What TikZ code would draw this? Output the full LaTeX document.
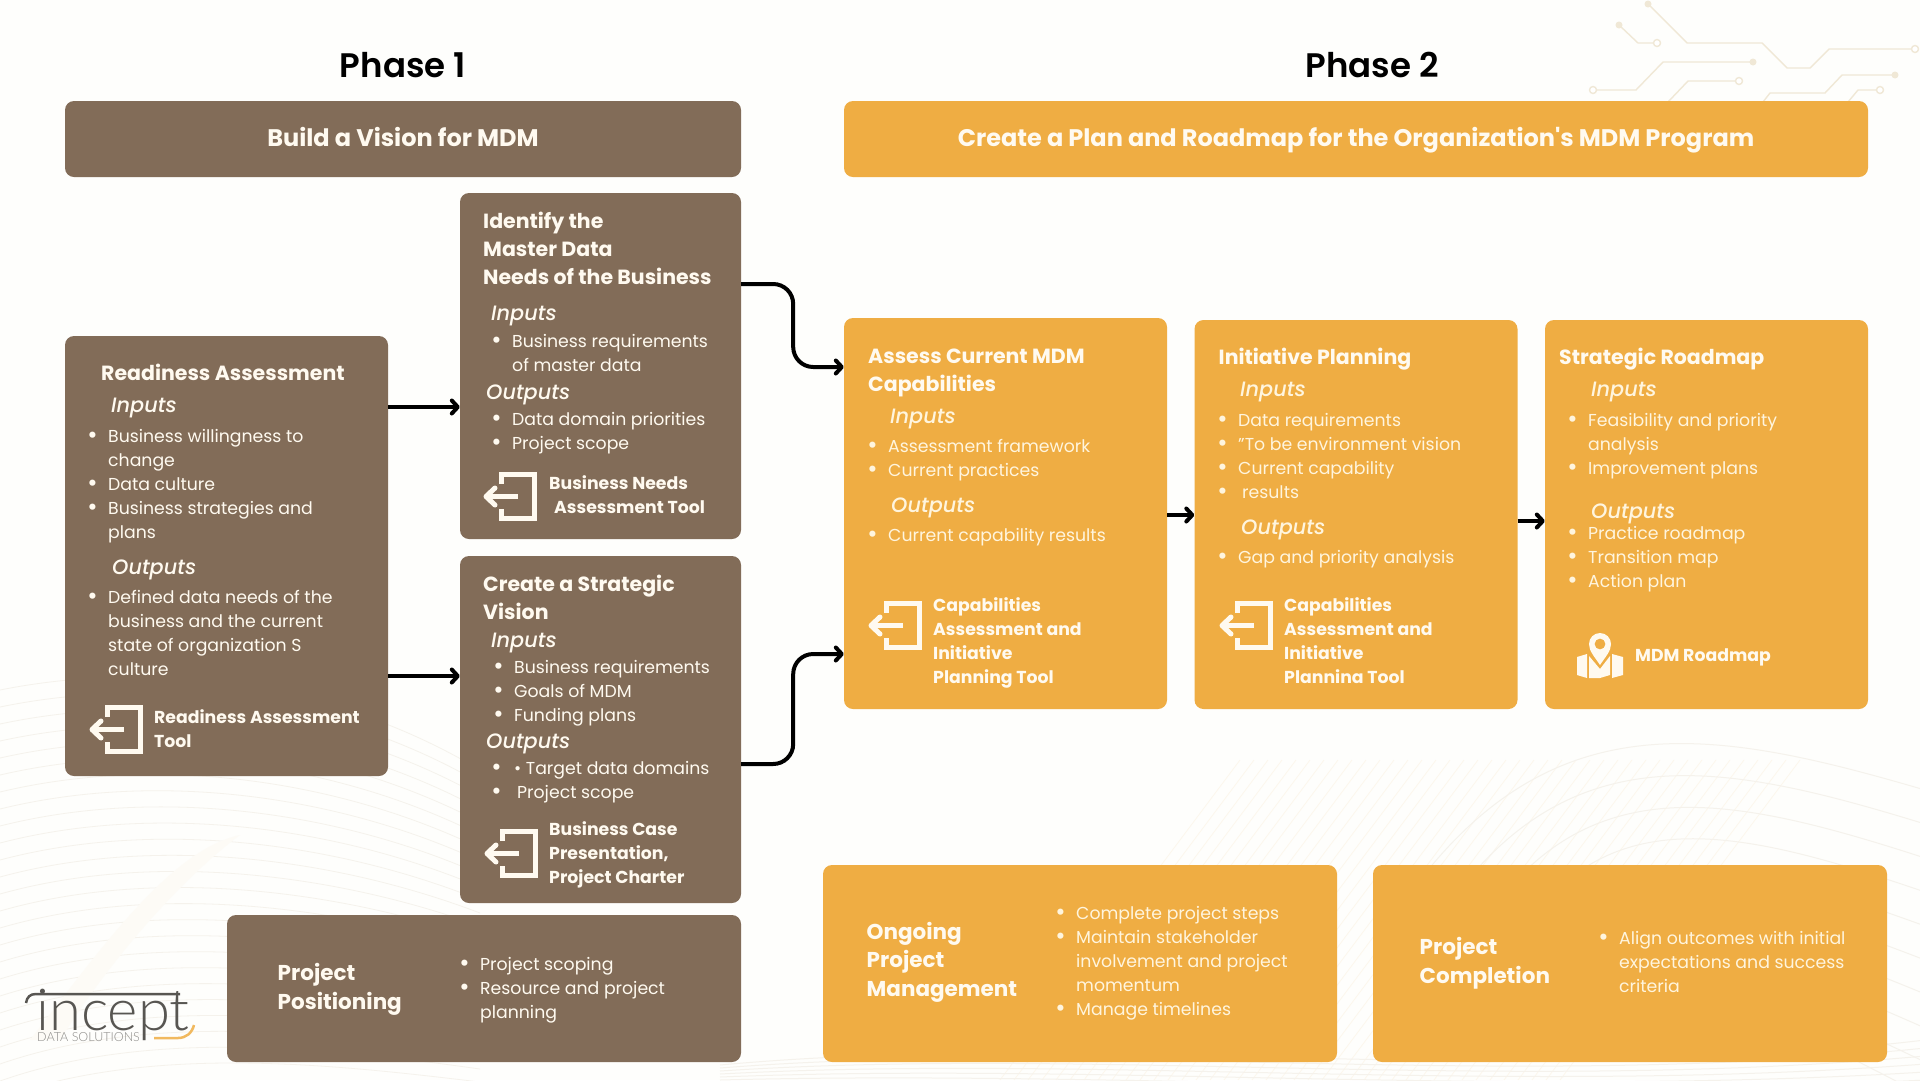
\documentclass[tikz,border=0pt]{standalone}
\usepackage{fontspec}
\usepackage{tikz}
\usetikzlibrary{arrows.meta,positioning,calc}
\setmainfont{Poppins}
\IfFontExistsTF{Lato Light}{\newfontfamily\logofont{Lato Light}}{\newfontfamily\logofont{Lato}}
\IfFontExistsTF{Poppins SemiBold}{\newfontfamily\phasefont{Poppins SemiBold}}{\newfontfamily\phasefont{Poppins Bold}}
\IfFontExistsTF{Poppins Medium Italic}{\newfontfamily\secfam{Poppins Medium Italic}}{\newfontfamily\secfam{Poppins Italic}}
\definecolor{mdmbrown}{RGB}{130,108,88}
\definecolor{mdmgold}{RGB}{239,173,67}
\definecolor{mdmcream}{RGB}{255,250,240}
\definecolor{mdmpale}{RGB}{255,245,222}
\definecolor{mdmline}{RGB}{240,232,214}
\definecolor{mdmwave}{RGB}{245,242,236}
\definecolor{mdmtint}{RGB}{252,247,236}
\definecolor{logodark}{RGB}{88,86,82}
\newcommand{\bul}{\leavevmode\llap{\raisebox{-1.6pt}{\fontsize{25}{24}\selectfont\textbullet}\hspace{10.5pt}}}
\newcommand{\ttlfont}{\fontsize{20.5}{28}\selectfont\bfseries}
\newcommand{\secfont}{\secfam\fontsize{20.8}{28}\selectfont}
\newcommand{\lstfont}{\fontsize{17.3}{24}\selectfont}
\newcommand{\toolfont}{\fontsize{17.3}{24}\selectfont\bfseries}

\begin{document}
\begin{tikzpicture}[x=1pt,y=-1pt,
  brownbox/.style={rounded corners=9pt,fill=mdmbrown,draw=none,inner sep=0pt},
  goldbox/.style={rounded corners=9pt,fill=mdmgold,draw=none,inner sep=0pt},
  phase/.style={font=\phasefont\fontsize{34}{40}\selectfont,text=black,anchor=base,inner sep=0pt},
  bannertxt/.style={font=\fontsize{24}{30}\selectfont\bfseries,text=mdmcream,anchor=base,inner sep=0pt},
  txt/.style={anchor=base west,align=left,inner sep=0pt,text=mdmcream},
  ttl/.style={txt,font=\ttlfont},
  wttl/.style={txt,font=\fontsize{21.5}{28.5}\selectfont\bfseries},
  sec/.style={txt,font=\secfont},
  lst/.style={txt,font=\lstfont},
  tooltxt/.style={txt,font=\toolfont},
  plst/.style={lst,text=mdmpale},
  psec/.style={sec,text=mdmpale},
  arr/.style={-{Straight Barb[length=6pt,width=13pt,round]},line width=4pt,color=black},
  curvearr/.style={arr,rounded corners=20pt},
  trace/.style={line width=1.4pt,color=mdmline},
  toolicon/.pic={
    \draw[mdmcream,line width=5pt,line join=miter] (18.5,12) -- (18.5,2.5) -- (51.5,2.5) -- (51.5,46.5) -- (18.5,46.5) -- (18.5,37);
    \draw[mdmcream,line width=5pt] (35,24.5) -- (5,24.5);
    \draw[mdmcream,line width=5pt,line join=round,line cap=round] (12,16) -- (3,24.5) -- (12,33);
  }]

  \useasboundingbox (0,0) rectangle (1920,1080);
  \fill[white!85!mdmtint] (0,0) rectangle (1920,1080);

  % faint background waves
  \begin{scope}
    \clip (0,0) rectangle (1920,1080);
    \foreach \k in {0,...,24}
      \draw[mdmwave,line width=0.8pt] (0,{690+\k*17}) .. controls (150,{660+\k*16}) and (330,{680+\k*16}) .. (480,{770+\k*13});
    \foreach \k in {0,...,40}
      \draw[mdmtint,line width=0.8pt] ({1000+\k*14},1080) -- ({1240+\k*14},760);
    \foreach \k in {0,...,9}
      \draw[mdmwave,line width=1pt] ({1420+\k*38},{880+\k*12}) .. controls ({1560+\k*20},{700+\k*34}) and ({1720+\k*10},{730+\k*34}) .. (1925,{790+\k*34});
    \foreach \k in {0,...,5}
      \draw[mdmwave,line width=1pt] (720,{1065+\k*3}) .. controls (1100,{1030+\k*8}) and (1500,{1090+\k*2}) .. (1925,{1040+\k*8});
    \fill[white!50!mdmtint] (30,1040) .. controls (100,950) and (170,850) .. (240,835) .. controls (180,880) and (110,960) .. (60,1040) -- cycle;
  \end{scope}

  % circuit traces
  \draw[trace] (1648,4) -- (1687,43) -- (1762,43) -- (1787,68) -- (1810,68) -- (1829,49) -- (1912,49);
  \draw[trace] (1619,25) -- (1638,43) -- (1654,43);
  \draw[trace] (1596,90) -- (1636,90) -- (1663,62) -- (1753,62);
  \draw[trace] (1668,102) -- (1688,81) -- (1736,81);
  \draw[trace] (1763,102) -- (1770,93) -- (1825,93) -- (1842,75) -- (1895,75);
  \draw[trace] (1848,102) -- (1858,90) -- (1877,90);
  \fill[mdmline] (1648,4) circle (3.5pt) (1619,25) circle (3.5pt) (1753,62) circle (3.5pt) (1895,75) circle (3.5pt);
  \draw[trace,fill=white] (1915,49) circle (3.5pt) (1657,43) circle (3.5pt) (1593,90) circle (3.5pt) (1739,81) circle (3.5pt) (1880,90) circle (3.5pt);

  \node[phase] (phaseone) at (403,77) {Phase 1};
  \node[phase] (phasetwo) at (1372,77) {Phase 2};

  % boxes
  \node[brownbox,minimum width=676pt,minimum height=76pt] (vision) at (403,139) {};
  \node[goldbox,minimum width=1024pt,minimum height=76pt] (plan) at (1356,139) {};
  \node[brownbox,minimum width=323pt,minimum height=440pt] (ready) at (226.5,556) {};
  \node[brownbox,minimum width=281pt,minimum height=346pt] (needs) at (600.5,366) {};
  \node[brownbox,minimum width=281pt,minimum height=347pt] (strat) at (600.5,729.5) {};
  \node[brownbox,minimum width=514pt,minimum height=147pt] (position) at (484,988.5) {};
  \node[goldbox,minimum width=323pt,minimum height=391pt] (assess) at (1005.5,513.5) {};
  \node[goldbox,minimum width=323pt,minimum height=389pt] (initiative) at (1356,514.5) {};
  \node[goldbox,minimum width=323pt,minimum height=389pt] (roadmap) at (1706.5,514.5) {};
  \node[goldbox,minimum width=514pt,minimum height=197pt] (ongoing) at (1080,963.5) {};
  \node[goldbox,minimum width=514pt,minimum height=197pt] (complete) at (1630,963.5) {};

  \node[bannertxt] (visiontxt) at (403,146) {Build a Vision for MDM};
  \node[bannertxt] (plantxt) at (1356,146) {Create a Plan and Roadmap for the Organization\textquotesingle s MDM Program};

  % readiness
  \node[ttl] (rtitle) at (101,380) {Readiness Assessment};
  \node[sec] (rin) at (111,412) {Inputs};
  \node[lst] (rinlist) at (108,538) {\bul Business willingness to\\change\\\bul Data culture\\\bul Business strategies and\\plans};
  \node[sec] (rout) at (112,574) {Outputs};
  \node[lst] (routlist) at (108,675) {\bul Defined data needs of the\\business and the current\\state of organization S\\culture};
  \pic at (89,705) {toolicon};
  \node[tooltxt] (rtool) at (154,747) {Readiness Assessment\\Tool};

  % master data needs
  \node[ttl] (ntitle) at (483,284) {Identify the\\Master Data\\Needs of the Business};
  \node[sec] (nin) at (491,320) {Inputs};
  \node[lst] (ninlist) at (512,371) {\bul Business requirements\\of master data};
  \node[sec] (nout) at (486,399) {Outputs};
  \node[lst] (noutlist) at (512,449) {\bul Data domain priorities\\\bul Project scope};
  \pic at (483,472) {toolicon};
  \node[tooltxt] (ntool) at (549,513) {Business Needs\\\hspace*{5pt}Assessment Tool};

  % strategic vision
  \node[ttl] (stitle) at (483,619) {Create a Strategic\\Vision};
  \node[sec] (sin) at (491,647) {Inputs};
  \node[lst] (sinlist) at (514,721) {\bul Business requirements\\\bul Goals of MDM\\\bul Funding plans};
  \node[sec] (sout) at (486,748) {Outputs};
  \node[lst] (soutlist) at (512,798) {\bul\hspace*{2pt}• Target data domains\\\bul\hspace*{5pt}Project scope};
  \pic at (484,829) {toolicon};
  \node[tooltxt] (stool) at (549,883) {Business Case\\Presentation,\\Project Charter};

  % positioning
  \node[wttl] (ptitle) at (277.5,1009) {Project\\Positioning};
  \node[lst] (plist) at (480,1018) {\bul Project scoping\\\bul Resource and project\\planning};

  % assess
  \node[ttl] (atitle) at (868,391) {Assess Current MDM\\Capabilities};
  \node[psec] (ain) at (890,423) {Inputs};
  \node[plst] (ainlist) at (888,476) {\bul Assessment framework\\\bul Current practices};
  \node[psec] (aout) at (891,512) {Outputs};
  \node[plst] (aoutlist) at (888,541) {\bul Current capability results};
  \pic at (868,601) {toolicon};
  \node[tooltxt] (atool) at (933,683) {Capabilities\\Assessment and\\Initiative\\Planning Tool};

  % initiative
  \node[ttl] (ititle) at (1218.5,364) {Initiative Planning};
  \node[psec] (iin) at (1240,396) {Inputs};
  \node[plst] (iinlist) at (1238,498) {\bul Data requirements\\\bul "To be environment vision\\\bul Current capability\\\bul\hspace*{4pt}results};
  \node[psec] (iout) at (1241,534) {Outputs};
  \node[plst] (ioutlist) at (1238,563) {\bul Gap and priority analysis};
  \pic at (1219,601) {toolicon};
  \node[tooltxt] (itool) at (1284,683) {Capabilities\\Assessment and\\Initiative\\Plannina Tool};

  % roadmap
  \node[ttl] (mtitle) at (1559,364) {Strategic Roadmap};
  \node[psec] (min) at (1591,396) {Inputs};
  \node[plst] (minlist) at (1588,474) {\bul Feasibility and priority\\analysis\\\bul Improvement plans};
  \node[psec] (mout) at (1591,518) {Outputs};
  \node[plst] (moutlist) at (1588,587) {\bul Practice roadmap\\\bul Transition map\\\bul Action plan};
  \fill[mdmcream,even odd rule] (1600,665) .. controls (1594,656) and (1589,651) .. (1589,644) arc (180:360:11) .. controls (1611,651) and (1606,656) .. (1600,665) -- cycle (1600,644) circle (5.5pt);
  \fill[mdmcream] (1577,657) -- (1587,654) -- (1587,678) -- (1577,675) -- cycle;
  \fill[mdmcream] (1589,656) -- (1600,669) -- (1610,656) -- (1610,675) -- (1600,678) -- (1589,678) -- cycle;
  \fill[mdmcream] (1612,654) -- (1623,657) -- (1623,675) -- (1612,678) -- cycle;
  \node[tooltxt] (mtool) at (1635,661) {MDM Roadmap};

  % ongoing and completion
  \node[wttl] (otitle) at (866.5,996) {Ongoing\\Project\\Management};
  \node[plst] (olist) at (1076,1015) {\bul Complete project steps\\\bul Maintain stakeholder\\involvement and project\\momentum\\\bul Manage timelines};
  \node[wttl] (ctitle) at (1419.5,983) {Project\\Completion};
  \node[plst] (clist) at (1619,992) {\bul Align outcomes with initial\\expectations and success\\criteria};

  % connectors
  \draw[arr] ([yshift=149pt]ready.east) -- ([yshift=-41pt]needs.west);
  \draw[arr] ([yshift=-120pt]ready.east) -- ([yshift=53.5pt]strat.west);
  \draw[curvearr] ([yshift=82pt]needs.east) -- ++(52,0) |- ([yshift=146.5pt]assess.west);
  \draw[curvearr] ([yshift=-34.5pt]strat.east) -- ++(52,0) |- ([yshift=-140.5pt]assess.west);
  \draw[arr] ([yshift=-1.5pt]assess.east) -- ([yshift=-0.5pt]initiative.west);
  \draw[arr] ([yshift=-6.5pt]initiative.east) -- ([yshift=-6.5pt]roadmap.west);

  % logo
  \node[anchor=base west,inner sep=0pt,font=\logofont\fontsize{58}{60}\selectfont,text=logodark] (logoword) at (36,1030) {incept};
  \node[anchor=base west,inner sep=0pt,font=\logofont\fontsize{12.5}{14}\selectfont,text=logodark!70] (logosub) at (37,1041) {DATA SOLUTIONS};
  \draw[logodark,line width=2.5pt] (26,1003) .. controls (27,997) and (30,994) .. (36,994) -- (180,994);
  \draw[mdmgold!85!white,line width=2.5pt] (154,1038) -- (178,1038) .. controls (186,1038) and (192,1033) .. (194,1025);
\end{tikzpicture}
\end{document}
